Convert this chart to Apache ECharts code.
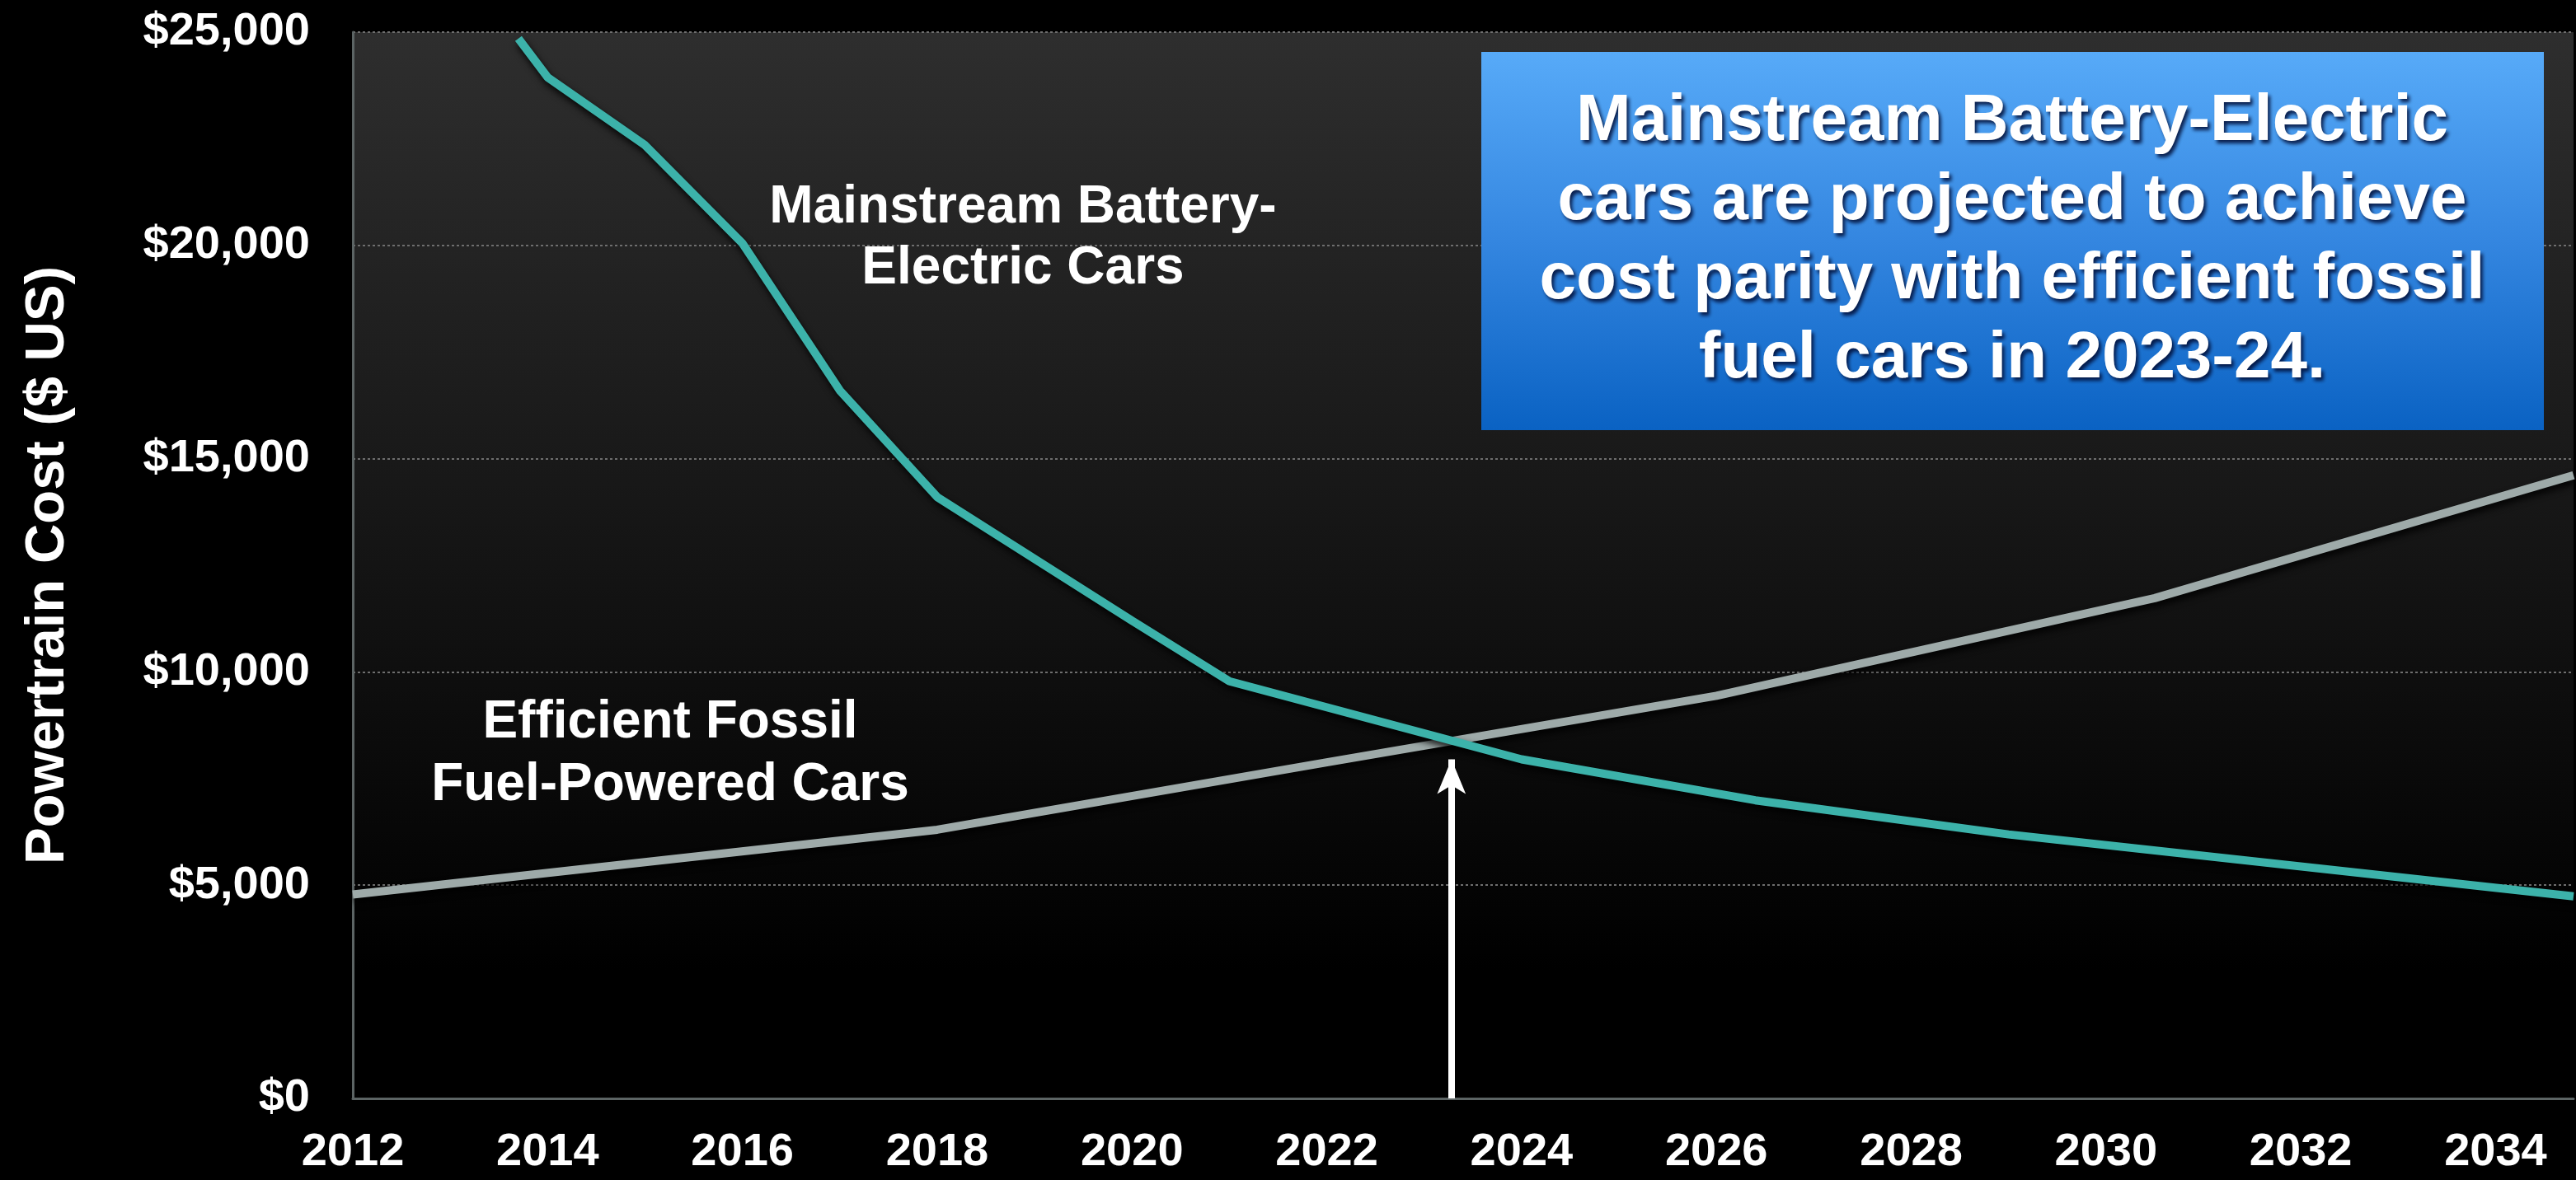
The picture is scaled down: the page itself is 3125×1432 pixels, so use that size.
<!DOCTYPE html>
<html>
<head>
<meta charset="utf-8">
<style>
html,body{margin:0;padding:0;background:#000;}
#chart{width:3125px;height:1432px;}
</style>
<script src="https://cdn.jsdelivr.net/npm/echarts@6/dist/echarts.min.js"></script>
</head>
<body>
<div id="chart"></div>
<script>
// ---- data ----
const evYears = [2013.7, 2014, 2015, 2016, 2017, 2018, 2019, 2020, 2021, 2024, 2026.4, 2029, 2034.8];
const evCost  = [24850, 23940, 22350, 20050, 16600, 14100, 12650, 11200, 9780, 7950, 6990, 6190, 4740];
const fossilYears = [2012, 2018, 2022, 2026, 2030.5, 2034.8];
const fossilCost  = [4780, 6300, 7880, 9440, 11730, 14610];
const parityYear = 2023.28;
const parityCost = 7950;
const yAxisTitle = 'Powertrain Cost ($ US)';
const evLabel = 'Mainstream Battery-\nElectric Cars';
const fossilLabel = 'Efficient Fossil\nFuel-Powered Cars';
const calloutText = 'Mainstream Battery-Electric\ncars are projected to achieve\ncost parity with efficient fossil\nfuel cars in 2023-24.';

const FONT = "'Liberation Sans', Arial, Helvetica, sans-serif";
const chart = echarts.init(document.getElementById('chart'), null, {renderer: 'canvas'});

function money(v) {
  return '$' + String(Math.round(v)).replace(/\B(?=(\d{3})+(?!\d))/g, ',');
}

const option = {
  backgroundColor: '#000',
  animation: false,
  grid: {
    left: 428, right: 0, top: 39, bottom: 99,
    show: true, borderWidth: 0,
    backgroundColor: {
      type: 'linear', x: 0, y: 0, x2: 0, y2: 1,
      colorStops: [
        {offset: 0, color: '#2e2e2e'},
        {offset: 0.88, color: '#000000'},
        {offset: 1, color: '#000000'}
      ]
    }
  },
  xAxis: {
    type: 'value', min: 2012, max: 2034.8, interval: 2,
    axisLine: {show: true, lineStyle: {color: '#5c6464', width: 3}},
    axisTick: {show: false},
    splitLine: {show: false},
    axisLabel: {
      color: '#fff', fontSize: 56, fontWeight: 'bold', fontFamily: FONT, margin: 38,
      formatter: v => (Math.abs(v - Math.round(v)) < 1e-6 && Math.round(v) % 2 === 0) ? String(Math.round(v)) : ''
    }
  },
  yAxis: {
    type: 'value', min: 0, max: 25000, interval: 5000,
    name: yAxisTitle, nameLocation: 'middle', nameGap: 336, nameRotate: 90,
    nameTextStyle: {color: '#fff', fontSize: 67, fontWeight: 'bold', fontFamily: FONT},
    axisLine: {show: true, lineStyle: {color: '#5c6464', width: 3}},
    axisTick: {show: false},
    splitLine: {show: true, lineStyle: {color: '#6e6e6e', width: 2, type: [3, 3]}},
    axisLabel: {color: '#fff', fontSize: 56, fontWeight: 'bold', fontFamily: FONT, margin: 52, formatter: money}
  },
  series: [
    {
      name: 'Efficient Fossil Fuel-Powered Cars', type: 'line',
      data: fossilYears.map((y, i) => [y, fossilCost[i]]),
      showSymbol: false, symbol: 'none', clip: true, z: 3,
      lineStyle: {color: '#9eaaa9', width: 10, shadowColor: 'rgba(0,0,0,0.9)', shadowBlur: 8, shadowOffsetX: 2, shadowOffsetY: 5},
      markLine: {
        silent: true, symbol: ['none', 'arrow'], symbolSize: [26, 42],
        label: {show: false},
        lineStyle: {color: '#ffffff', width: 8, type: 'solid', shadowBlur: 0},
        data: [[{coord: [parityYear, 0]}, {coord: [parityYear, parityCost]}]]
      }
    },
    {
      name: 'Mainstream Battery-Electric Cars', type: 'line',
      data: evYears.map((y, i) => [y, evCost[i]]),
      showSymbol: false, symbol: 'none', clip: true, z: 4,
      lineStyle: {color: '#3cb2aa', width: 10, shadowColor: 'rgba(0,0,0,0.9)', shadowBlur: 8, shadowOffsetX: 2, shadowOffsetY: 5}
    }
  ],
  graphic: [
    {
      type: 'text', z: 10,
      style: {text: evLabel, x: 1241, y: 289, fill: '#fff', fontSize: 64, fontWeight: 'bold', fontFamily: FONT,
              textAlign: 'center', align: 'center', textVerticalAlign: 'middle', verticalAlign: 'middle', lineHeight: 74}
    },
    {
      type: 'text', z: 10,
      style: {text: fossilLabel, x: 813, y: 915, fill: '#fff', fontSize: 64, fontWeight: 'bold', fontFamily: FONT,
              textAlign: 'center', align: 'center', textVerticalAlign: 'middle', verticalAlign: 'middle', lineHeight: 76}
    },
    {
      type: 'rect', z: 10,
      shape: {x: 1797, y: 63, width: 1289, height: 459},
      style: {
        fill: {type: 'linear', x: 0, y: 0, x2: 0, y2: 1,
               colorStops: [{offset: 0, color: '#57aaf8'}, {offset: 0.5, color: '#3486e0'}, {offset: 1, color: '#0a62c3'}]}
      }
    },
    {
      type: 'text', z: 11,
      style: {text: calloutText, x: 2441, y: 292, fill: '#fff', fontSize: 80, fontWeight: 'bold', fontFamily: FONT,
              textAlign: 'center', align: 'center', textVerticalAlign: 'middle', verticalAlign: 'middle', lineHeight: 96,
              textShadowColor: 'rgba(0,10,50,0.85)', textShadowBlur: 4, textShadowOffsetX: 3, textShadowOffsetY: 4}
    }
  ]
};
chart.setOption(option);
</script>
</body>
</html>
